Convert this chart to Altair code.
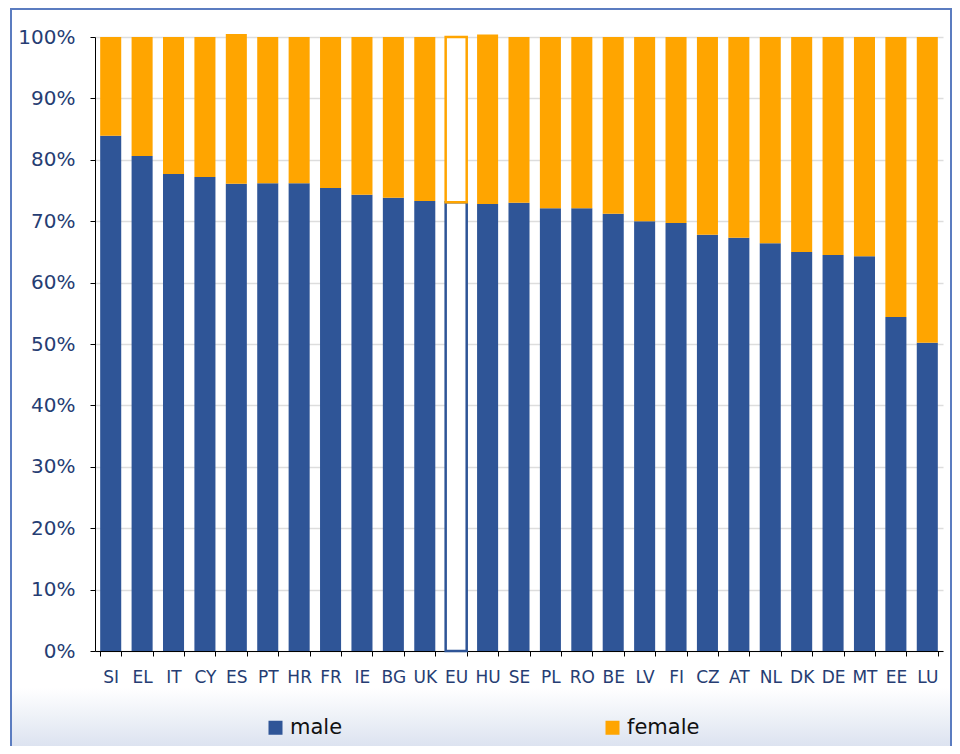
import altair as alt
import pandas as pd

countries = ["SI", "EL", "IT", "CY", "ES", "PT", "HR", "FR", "IE", "BG", "UK", "EU", "HU", "SE",
             "PL", "RO", "BE", "LV", "FI", "CZ", "AT", "NL", "DK", "DE", "MT", "EE", "LU"]
male = [83.9, 80.6, 77.7, 77.2, 76.1, 76.2, 76.2, 75.4, 74.3, 73.8, 73.3, 73.1, 72.8, 73.0,
        72.1, 72.1, 71.2, 70.0, 69.7, 67.8, 67.3, 66.4, 65.0, 64.5, 64.3, 54.4, 50.2]
female = [16.1, 19.4, 22.3, 22.8, 24.4, 23.8, 23.8, 24.6, 25.7, 26.2, 26.7, 26.9, 27.6, 27.0,
          27.9, 27.9, 28.8, 30.0, 30.3, 32.2, 32.7, 33.6, 35.0, 35.5, 35.7, 45.6, 49.8]
genders = ["male", "female"]
colors = ["#2f5597", "#ffa500"]

rows = []
for c, m, f in zip(countries, male, female):
    rows.append({"country": c, "gender": "male", "share": m / 100, "ord": 0})
    rows.append({"country": c, "gender": "female", "share": f / 100, "ord": 1})
df = pd.DataFrame(rows)

W, H = 848, 614
PL, PT = 87, 29

# decorative background: gradient and frame
deco = alt.Chart(alt.Data(values=[{}]))
grad = deco.mark_rect(
    fill=alt.Gradient(gradient="linear", x1=0, y1=0, x2=0, y2=1,
                      stops=[alt.GradientStop(color="#ffffff", offset=0),
                             alt.GradientStop(color="#dae1ef", offset=1)])
).encode(x=alt.value(11 - 95), x2=alt.value(951 - 95), y=alt.value(688 - 37), y2=alt.value(750 - 37))
frame = deco.mark_rect(fill="transparent", stroke="#5b7cc0", strokeWidth=2).encode(
    x=alt.value(11 - 95), x2=alt.value(951 - 95), y=alt.value(9 - 37), y2=alt.value(780 - 37))

xenc = alt.X("country:N", sort=countries, title=None,
             scale=alt.Scale(paddingInner=0.33, paddingOuter=0.165),
             axis=alt.Axis(labelAngle=0, tickBand="extent", labelFontSize=17, labelColor="#263d73",
                           labelFont="DejaVu Sans", labelPadding=13, domainColor="#000000",
                           tickColor="#000000", tickSize=5, grid=False))
yenc = alt.Y("share:Q", stack="zero", title=None,
             scale=alt.Scale(domain=[0, 1], nice=False, zero=True),
             axis=alt.Axis(values=[i / 10 for i in range(11)], format=".0%", labelFontSize=20,
                           labelColor="#263d73", labelFont="DejaVu Sans", labelPadding=15,
                           domainColor="#000000", tickColor="#000000", tickSize=5,
                           gridColor="#dddddd", gridWidth=1.5))
cscale = alt.Scale(domain=genders, range=colors)

bars = alt.Chart(df).transform_filter("datum.country != 'EU'").mark_bar().encode(
    x=xenc, y=yenc,
    color=alt.Color("gender:N", scale=cscale, sort=genders, title=None,
                    legend=alt.Legend(orient="none", legendX=170, legendY=680, direction="horizontal",
                                      symbolType="square", symbolSize=196, symbolStrokeWidth=0,
                                      labelFontSize=21, labelFont="DejaVu Sans", labelColor="#111111",
                                      labelOffset=4, columnPadding=259, columns=2)),
    order=alt.Order("ord:Q"),
)
eu = alt.Chart(df).transform_filter("datum.country == 'EU'").mark_bar(fill="white", strokeWidth=2.5).encode(
    x=xenc, y=yenc,
    stroke=alt.Stroke("gender:N", scale=cscale, sort=genders, legend=None),
    order=alt.Order("ord:Q"),
)

chart = alt.layer(grad, frame, bars, eu).properties(
    width=W, height=H,
    autosize=alt.AutoSizeParams(type="none"),
    padding={"left": PL, "top": PT, "right": 9, "bottom": 95},
    background="white",
).configure_view(stroke=None)

chart.save("out.html", embed_options={"renderer": "svg", "actions": False})
